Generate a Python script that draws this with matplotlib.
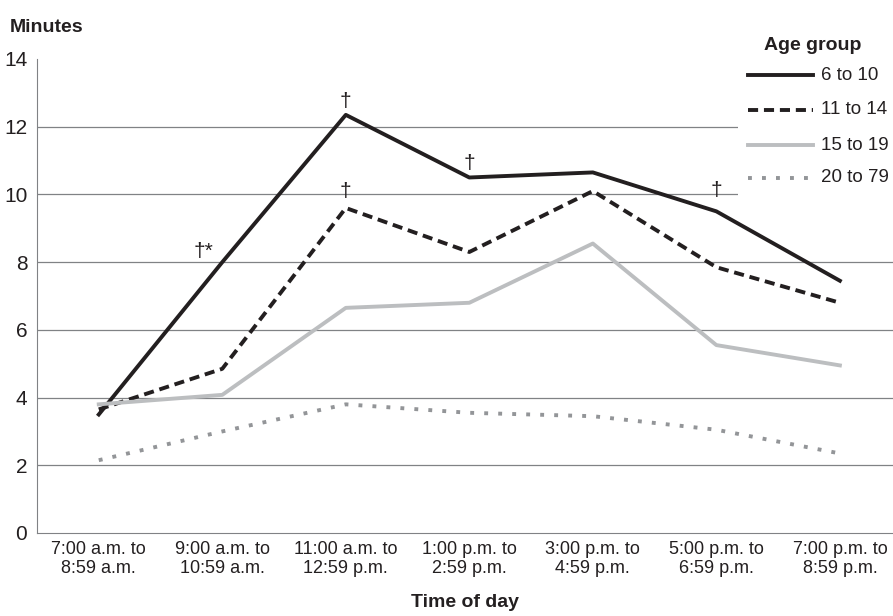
import matplotlib
matplotlib.use('Agg')
import matplotlib.pyplot as plt
from matplotlib.lines import Line2D
from matplotlib.patches import Rectangle

plt.rcParams['font.family'] = ['Liberation Sans', 'DejaVu Sans']

# --- Data ---
periods = ['7:00 a.m. to\n8:59 a.m.', '9:00 a.m. to\n10:59 a.m.', '11:00 a.m. to\n12:59 p.m.',
           '1:00 p.m. to\n2:59 p.m.', '3:00 p.m. to\n4:59 p.m.', '5:00 p.m. to\n6:59 p.m.',
           '7:00 p.m. to\n8:59 p.m.']
groups = ['6 to 10', '11 to 14', '15 to 19', '20 to 79']
age_6_10 = [3.5, 8.0, 12.35, 10.5, 10.65, 9.5, 7.45]
age_11_14 = [3.65, 4.85, 9.6, 8.3, 10.1, 7.85, 6.8]
age_15_19 = [3.8, 4.08, 6.65, 6.8, 8.55, 5.55, 4.95]
age_20_79 = [2.15, 3.0, 3.8, 3.55, 3.45, 3.05, 2.35]
series = [age_6_10, age_11_14, age_15_19, age_20_79]

# significance markers: (period index, group index, text)
marks = [(1, 0, '†*'), (2, 0, '†'), (2, 1, '†'), (3, 0, '†'), (5, 0, '†')]
mark_offsets = [(-19, 1), (0, 4), (0, 7), (0, 5), (0, 11)]  # pixels

styles = [dict(color='#231f20', ls='-'),
          dict(color='#231f20', ls=(0, (2.6, 1.5))),
          dict(color='#bcbec0', ls='-'),
          dict(color='#939598', ls=(0, (1.0, 2.6)))]
LW = 2.8

W, H = 893, 616
fig = plt.figure(figsize=(W / 100, H / 100), dpi=100)
ax = fig.add_axes([37 / W, (H - 533) / H, (W - 37) / W, (533 - 59) / H])

x = list(range(len(periods)))
for vals, name, st in zip(series, groups, styles):
    ax.plot(x, vals, lw=LW, label=name, zorder=3, **st)

for (i, g, txt), (dx, dy) in zip(marks, mark_offsets):
    ax.annotate(txt, (i, series[g][i]), xytext=(dx, dy), textcoords='offset pixels',
                ha='center', va='bottom', fontsize=15, color='#231f20', zorder=4)

ax.set_xlim(-0.5, 6.43)
ax.set_ylim(0, 14)
ax.set_yticks(range(0, 15, 2))
ax.set_xticks(x)
ax.set_xticklabels(periods, fontsize=13, color='#231f20', linespacing=1.15)
ax.tick_params(axis='y', length=0, labelsize=15, labelcolor='#231f20', pad=7)
ax.tick_params(axis='x', length=0, pad=6)
for y in range(2, 14, 2):
    ax.axhline(y, color='#808285', lw=0.9, zorder=0)
for s in ['top', 'right']:
    ax.spines[s].set_visible(False)
ax.spines['left'].set_color('#808285')
ax.spines['bottom'].set_color('#808285')

fig.text(10 / W, 1 - 28 / H, 'Minutes', fontsize=14, fontweight='bold',
         ha='left', va='center', color='#231f20')
ax.set_xlabel('Time of day', fontsize=14, fontweight='bold', color='#231f20', labelpad=12)

# --- Legend drawn by hand, with a white box hiding the grid behind it ---
fig.patches.append(Rectangle((738 / W, 1 - 202 / H), (W - 738) / W, 202 / H,
                             transform=fig.transFigure, facecolor='white',
                             edgecolor='none', zorder=1))
fig.text(813 / W, 1 - 45 / H, 'Age group', fontsize=14, fontweight='bold',
         ha='center', va='center', color='#231f20', zorder=5)
rows = [75, 110, 145, 178]
for name, st, ry in zip(groups, styles, rows):
    fig.lines.append(Line2D([748 / W, 813 / W], [1 - ry / H, 1 - ry / H], lw=LW,
                            transform=fig.transFigure, zorder=5, **st))
    fig.text(821 / W, 1 - ry / H, name, fontsize=13.5, ha='left', va='center',
             color='#231f20', zorder=5)

fig.savefig('out.png', dpi=100)
